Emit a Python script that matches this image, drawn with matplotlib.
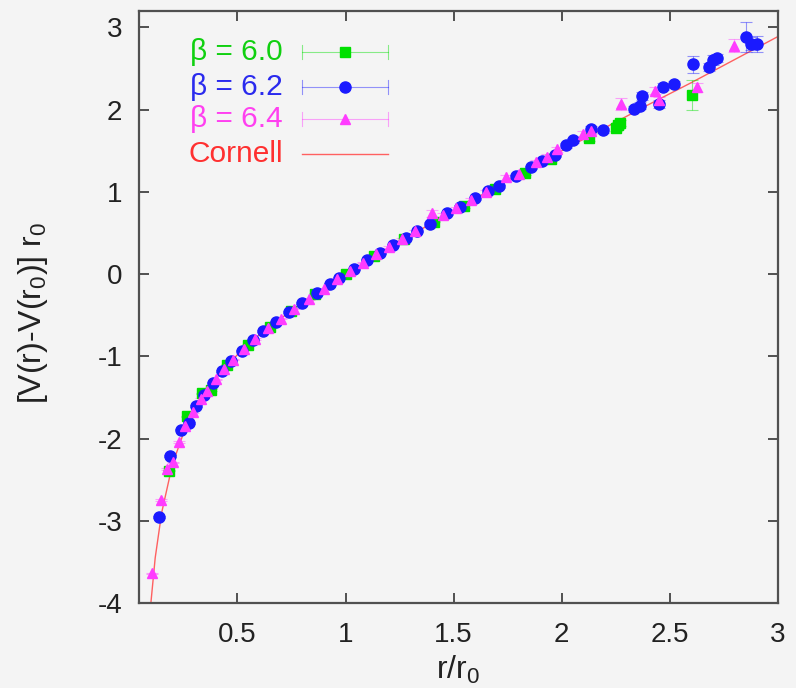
import numpy as np
import matplotlib
matplotlib.use('Agg')
import matplotlib.pyplot as plt


# beta = 6.0 : r/r0, [V(r)-V(r0)] r0, error
r_60 = [0.186, 0.265, 0.335, 0.38, 0.45, 0.55, 0.65, 0.75, 0.86, 1.0,
        1.13, 1.27, 1.41, 1.55, 1.69, 1.83, 1.95, 2.127, 2.25, 2.258,
        2.27, 2.60]
v_60 = [-2.39, -1.73, -1.45, -1.41, -1.10, -0.86, -0.64, -0.45, -0.24, 0.0,
        0.22, 0.43, 0.64, 0.83, 1.03, 1.23, 1.40, 1.65, 1.78, 1.81,
        1.84, 2.18]
e_60 = [0.01, 0.01, 0.01, 0.01, 0.01, 0.01, 0.01, 0.01, 0.01, 0.0,
        0.01, 0.01, 0.01, 0.02, 0.02, 0.02, 0.02, 0.03, 0.04, 0.04,
        0.04, 0.18]

# beta = 6.2
r_62 = [0.139, 0.19, 0.24, 0.277, 0.309, 0.345, 0.387, 0.43, 0.47, 0.52,
        0.57, 0.62, 0.68, 0.74, 0.80, 0.87, 0.93, 0.97, 1.04, 1.10,
        1.16, 1.22, 1.28, 1.33, 1.39, 1.47, 1.53, 1.60, 1.66, 1.71,
        1.79, 1.86, 1.91, 1.97, 2.02, 2.05, 2.135, 2.19, 2.335, 2.36,
        2.373, 2.45, 2.466, 2.52, 2.609, 2.68, 2.70, 2.72, 2.851, 2.874,
        2.905]
v_62 = [-2.95, -2.21, -1.89, -1.81, -1.60, -1.47, -1.32, -1.18, -1.06, -0.93,
        -0.80, -0.69, -0.58, -0.46, -0.35, -0.23, -0.12, -0.05, 0.06, 0.17,
        0.26, 0.35, 0.44, 0.52, 0.61, 0.74, 0.82, 0.92, 1.01, 1.07,
        1.19, 1.30, 1.38, 1.45, 1.57, 1.63, 1.77, 1.75, 2.01, 2.05,
        2.17, 2.07, 2.28, 2.31, 2.55, 2.52, 2.60, 2.63, 2.886, 2.80,
        2.80]
e_62 = [0.01, 0.01, 0.01, 0.01, 0.01, 0.01, 0.01, 0.01, 0.01, 0.01,
        0.01, 0.01, 0.01, 0.01, 0.01, 0.01, 0.01, 0.01, 0.01, 0.01,
        0.01, 0.01, 0.01, 0.01, 0.02, 0.02, 0.02, 0.02, 0.02, 0.02,
        0.02, 0.02, 0.02, 0.02, 0.03, 0.03, 0.03, 0.03, 0.04, 0.04,
        0.05, 0.05, 0.04, 0.04, 0.10, 0.05, 0.06, 0.05, 0.18, 0.08,
        0.10]

# beta = 6.4
r_64 = [0.105, 0.145, 0.173, 0.204, 0.23, 0.26, 0.295, 0.33, 0.36, 0.40,
        0.44, 0.48, 0.53, 0.58, 0.64, 0.70, 0.76, 0.83, 0.90, 0.96,
        1.02, 1.08, 1.14, 1.20, 1.26, 1.32, 1.40, 1.45, 1.51, 1.58,
        1.65, 1.74, 1.80, 1.88, 1.93, 1.98, 2.10, 2.135, 2.273, 2.43,
        2.45, 2.625, 2.797]
v_64 = [-3.64, -2.75, -2.37, -2.29, -2.04, -1.85, -1.68, -1.52, -1.42, -1.28,
        -1.15, -1.04, -0.91, -0.79, -0.66, -0.54, -0.42, -0.30, -0.18, -0.06,
        0.04, 0.14, 0.24, 0.33, 0.43, 0.52, 0.74, 0.72, 0.80, 0.90,
        1.00, 1.18, 1.22, 1.36, 1.43, 1.52, 1.71, 1.74, 2.07, 2.23,
        2.12, 2.27, 2.78]
e_64 = [0.01, 0.01, 0.01, 0.01, 0.01, 0.01, 0.01, 0.01, 0.01, 0.01,
        0.01, 0.01, 0.01, 0.01, 0.01, 0.01, 0.01, 0.01, 0.01, 0.01,
        0.01, 0.01, 0.01, 0.01, 0.01, 0.02, 0.04, 0.02, 0.02, 0.02,
        0.02, 0.03, 0.03, 0.03, 0.03, 0.03, 0.03, 0.03, 0.07, 0.04,
        0.04, 0.06, 0.08]

# Cornell fit
r_fit = [0.10, 0.12, 0.15, 0.20, 0.25, 0.30, 0.40, 0.50, 0.60, 0.70,
         0.80, 1.00, 1.20, 1.40, 1.60, 1.80, 2.00, 2.20, 2.40, 2.60,
         2.80, 3.00]
v_fit = [-4.00, -3.45, -2.90, -2.31, -1.94, -1.66, -1.27, -0.98, -0.74, -0.54,
         -0.35, 0.00, 0.32, 0.62, 0.92, 1.21, 1.50, 1.78, 2.06, 2.33,
         2.61, 2.89]

series = [
    ('β = 6.0', r_60, v_60, e_60, 's', 7, '#00e000', '#10d010'),
    ('β = 6.2', r_62, v_62, e_62, 'o', 8, '#1a1aff', '#2a2aee'),
    ('β = 6.4', r_64, v_64, e_64, '^', 6.5, '#ff3cff', '#ff40f0'),
]

BG = '#f4f4f4'


def plot():
    plt.rcParams['font.family'] = ['Liberation Sans', 'DejaVu Sans']
    plt.rcParams['mathtext.default'] = 'regular'
    plt.rcParams['axes.unicode_minus'] = False

    fig = plt.figure(figsize=(7.96, 6.88), dpi=100, facecolor=BG)
    ax = fig.add_axes([0.1746, 0.1235, 0.8028, 0.8605], facecolor=BG)

    ax.plot(r_fit, v_fit, color='#ff6060', lw=1.0, zorder=2)

    for label, r, v, e, mk, ms, col, tcol in series:
        ax.errorbar(r, v, yerr=e, fmt=mk, ms=ms, color=col, mec=col,
                    ecolor=col, elinewidth=0.8, capsize=4, capthick=0.8,
                    zorder=3)
    # lighten error bars like gnuplot does
    for coll in ax.collections:
        coll.set_alpha(0.45)
    for ln in ax.lines[1:]:
        if ln.get_marker() == '_':
            ln.set_alpha(0.45)

    ax.set_xlim(0.045, 3.0)
    ax.set_ylim(-4.0, 3.2)
    ax.set_xticks([0.5, 1, 1.5, 2, 2.5, 3])
    ax.set_xticklabels(['0.5', '1', '1.5', '2', '2.5', '3'])
    ax.set_yticks(range(-4, 4))

    for sp in ax.spines.values():
        sp.set_color('#505050')
        sp.set_linewidth(1.6)
    ax.tick_params(direction='in', length=7, width=1.4, color='#505050',
                   top=True, right=True, labelsize=20, labelcolor='#222222')
    ax.tick_params(axis='x', pad=14)
    ax.tick_params(axis='y', pad=12)

    ax.set_xlabel('r/r$_0$', fontsize=23, color='#222222', labelpad=4)
    ax.set_ylabel('[V(r)-V(r$_0$)] r$_0$', fontsize=23, color='#222222')
    ax.yaxis.set_label_coords(-0.14, 0.49)

    # gnuplot style key in the top left corner
    rows = [0.931, 0.872, 0.818, 0.759]
    x_txt, x0, x1, xm = 0.2254, 0.255, 0.390, 0.322
    tr = ax.transAxes
    for (label, r, v, e, mk, ms, col, tcol), yk in zip(series, rows[:3]):
        ax.text(x_txt, yk, label, transform=tr, ha='right', va='center',
                fontsize=21.5, color=tcol)
        ax.plot([x0, x1], [yk, yk], transform=tr, color=col, lw=0.8,
                alpha=0.45, clip_on=False)
        ax.plot([x0, x0], [yk - 0.012, yk + 0.012], transform=tr, color=col,
                lw=0.8, alpha=0.45, clip_on=False)
        ax.plot([x1, x1], [yk - 0.012, yk + 0.012], transform=tr, color=col,
                lw=0.8, alpha=0.45, clip_on=False)
        ax.plot([xm], [yk], transform=tr, marker=mk, ms=ms, color=col,
                clip_on=False)
    ax.text(x_txt, rows[3], 'Cornell', transform=tr, ha='right', va='center',
            fontsize=21.5, color='#ff3030')
    ax.plot([x0, x1], [rows[3], rows[3]], transform=tr, color='#ff6060',
            lw=1.0, clip_on=False)

    fig.savefig('out.png', dpi=100, facecolor=BG)


if __name__ == '__main__':
    plot()
